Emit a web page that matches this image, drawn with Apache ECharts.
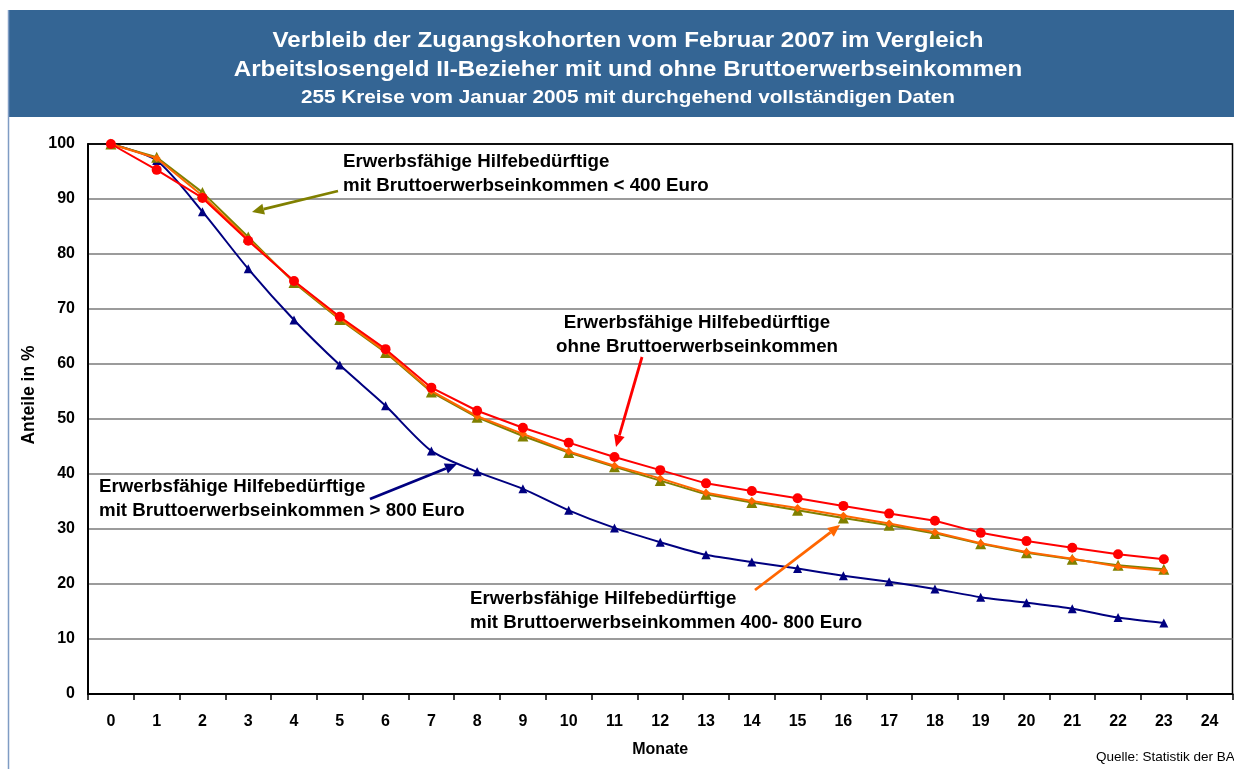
<!DOCTYPE html>
<html>
<head>
<meta charset="utf-8">
<script src="https://cdn.jsdelivr.net/npm/echarts@6/dist/echarts.min.js"></script>
<style>
html,body{margin:0;padding:0;background:#fff;}
#c{width:1234px;height:769px;}
</style>
</head>
<body>
<div id="c"></div>
<script>
// ---- data ----
const months = ['0','1','2','3','4','5','6','7','8','9','10','11','12','13','14','15','16','17','18','19','20','21','22','23','24'];
const ohneEinkommen = [100, 95.3, 90.2, 82.4, 75.1, 68.6, 62.7, 55.7, 51.5, 48.4, 45.7, 43.1, 40.7, 38.3, 36.9, 35.6, 34.2, 32.8, 31.5, 29.3, 27.8, 26.6, 25.4, 24.5];
const unter400 = [100, 97.6, 91.2, 83.1, 74.8, 68.1, 62.1, 54.9, 50.3, 46.9, 43.9, 41.3, 38.8, 36.3, 34.8, 33.4, 32.0, 30.7, 29.2, 27.3, 25.7, 24.5, 23.4, 22.7];
const von400bis800 = [100, 97.4, 90.6, 82.7, 75.0, 68.3, 62.3, 55.1, 50.5, 47.3, 44.1, 41.5, 39.2, 36.6, 35.1, 33.8, 32.4, 31.0, 29.4, 27.4, 25.8, 24.6, 23.2, 22.4];
const ueber800 = [100, 97.0, 87.7, 77.3, 68.0, 59.8, 52.4, 44.2, 40.4, 37.3, 33.4, 30.2, 27.6, 25.3, 24.0, 22.8, 21.5, 20.4, 19.1, 17.6, 16.6, 15.5, 13.9, 12.9];
const yTicks = [0,10,20,30,40,50,60,70,80,90,100];

const titleLines = [
  'Verbleib der Zugangskohorten vom Februar 2007 im Vergleich',
  'Arbeitslosengeld II-Bezieher mit und ohne Bruttoerwerbseinkommen',
  '255 Kreise vom Januar 2005 mit durchgehend vollständigen Daten'
];
const yAxisTitle = 'Anteile in %';
const xAxisTitle = 'Monate';
const sourceText = 'Quelle: Statistik der BA';
const annoTexts = {
  u400: 'Erwerbsfähige Hilfebedürftige\nmit Bruttoerwerbseinkommen < 400 Euro',
  ohne: 'Erwerbsfähige Hilfebedürftige\nohne Bruttoerwerbseinkommen',
  ue800: 'Erwerbsfähige Hilfebedürftige\nmit Bruttoerwerbseinkommen > 800 Euro',
  m400: 'Erwerbsfähige Hilfebedürftige\nmit Bruttoerwerbseinkommen 400- 800 Euro'
};

const FONT = '"Liberation Sans", Arial, Helvetica, sans-serif';

function arrow(x1, y1, x2, y2, color) {
  const a = Math.atan2(y2 - y1, x2 - x1);
  const L = 12, W = 5.5;
  const c = Math.cos(a), s = Math.sin(a);
  const bx = x2 - L * c, by = y2 - L * s;
  return [
    {type:'line', shape:{x1:x1, y1:y1, x2:bx, y2:by}, style:{stroke:color, lineWidth:2.8}, z:50},
    {type:'polygon', shape:{points:[[x2,y2],[bx - W*s, by + W*c],[bx + W*s, by - W*c]]}, style:{fill:color}, z:50}
  ];
}
function anno(x, y, text, align) {
  return {type:'text', x:x, y:y, z:50, scaleX:1.07,
    style:{text:text, font:'bold 17.5px ' + FONT, fill:'#000', lineHeight:24, align:align || 'left', verticalAlign:'top'}};
}
function titleText(y, text, size, sx) {
  return {type:'text', x:628, y:y, scaleX:sx, z:2,
    style:{text:text, font:'bold ' + size + 'px ' + FONT, fill:'#fff', align:'center', verticalAlign:'middle'}};
}

const chart = echarts.init(document.getElementById('c'), null, {renderer:'canvas'});

const graphics = [
  {type:'rect', shape:{x:8, y:10, width:1226, height:107}, style:{fill:'#346594'}, z:1},
  {type:'line', shape:{x1:8.5, y1:10, x2:8.5, y2:769}, style:{stroke:'#7f9cc4', lineWidth:1.5}, z:1},
  titleText(41, titleLines[0], 22, 1.097),
  titleText(70, titleLines[1], 22, 1.097),
  titleText(98, titleLines[2], 18.5, 1.12),
  anno(343, 150, annoTexts.u400, 'left'),
  anno(697, 311, annoTexts.ohne, 'center'),
  anno(99, 475, annoTexts.ue800, 'left'),
  anno(470, 587, annoTexts.m400, 'left'),
  {type:'text', x:29, y:395, rotation:Math.PI/2, z:2,
    style:{text:yAxisTitle, font:'bold 17.5px ' + FONT, fill:'#000', align:'center', verticalAlign:'middle'}},
  {type:'text', x:1096, y:757, style:{text:sourceText, font:'13.5px ' + FONT, fill:'#000', verticalAlign:'middle'}, z:2}
].concat(
  arrow(338, 191, 252, 212, '#808000'),
  arrow(642, 357, 616, 447, '#ff0000'),
  arrow(370, 499, 457, 464, '#000080'),
  arrow(755, 590, 840, 525, '#ff6600')
);

const gridColors = yTicks.map((v, i) => i === yTicks.length - 1 ? '#000' : '#7a7a7a');

chart.setOption({
  animation:false,
  backgroundColor:'#ffffff',
  grid:{left:88, right:1.5, top:144, bottom:75, show:true, borderColor:'#000', borderWidth:1.5, backgroundColor:'transparent'},
  xAxis:{
    type:'category', data:months, boundaryGap:true,
    name:xAxisTitle, nameLocation:'middle', nameGap:48,
    nameTextStyle:{fontFamily:FONT, fontWeight:'bold', fontSize:16, color:'#000'},
    axisLine:{lineStyle:{color:'#000', width:2}},
    axisTick:{show:true, length:6, lineStyle:{color:'#000', width:1.5}},
    axisLabel:{fontFamily:FONT, fontWeight:'bold', fontSize:16, color:'#000', margin:20, interval:0},
    splitLine:{show:false}
  },
  yAxis:{
    type:'value', min:0, max:100, interval:10,
    axisLine:{show:true, lineStyle:{color:'#000', width:2}},
    axisTick:{show:false},
    axisLabel:{fontFamily:FONT, fontWeight:'bold', fontSize:16, color:'#000', margin:13},
    splitLine:{show:true, lineStyle:{color:gridColors, width:1.5}}
  },
  series:[
    {name:'> 800 Euro', type:'line', data:ueber800, smooth:0.25, symbol:'triangle', symbolSize:9,
      lineStyle:{color:'#000080', width:2}, itemStyle:{color:'#000080'}, z:3},
    {name:'< 400 Euro', type:'line', data:unter400, symbol:'triangle', symbolSize:11,
      lineStyle:{color:'#808000', width:2}, itemStyle:{color:'#808000'}, z:4},
    {name:'400-800 Euro', type:'line', data:von400bis800, symbol:'diamond', symbolSize:8,
      lineStyle:{color:'#ff6600', width:2}, itemStyle:{color:'#ff6600'}, z:5},
    {name:'ohne', type:'line', data:ohneEinkommen, symbol:'circle', symbolSize:10,
      lineStyle:{color:'#ff0000', width:2}, itemStyle:{color:'#ff0000'}, z:6}
  ],
  graphic:graphics
});
</script>
</body>
</html>
